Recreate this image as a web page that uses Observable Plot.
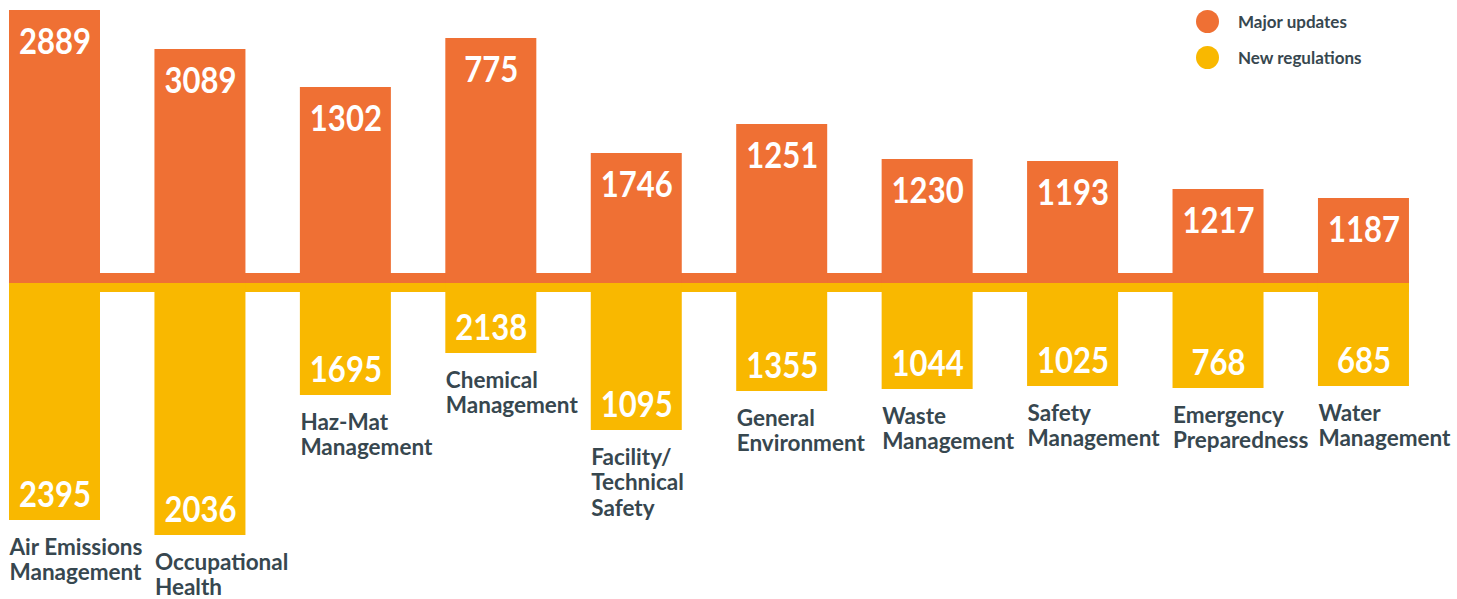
<!DOCTYPE html>
<html><head><meta charset="utf-8">
<script src="https://cdn.jsdelivr.net/npm/d3@7"></script>
<script src="https://cdn.jsdelivr.net/npm/@observablehq/plot@0.6"></script>
<style>
body{margin:0;background:#fff;}
#wrap{position:relative;width:1457px;height:599px;}
#legend{position:absolute;left:1196px;top:4px;font-family:Lato,sans-serif;font-weight:700;font-size:17px;color:#37474F}
.item{display:flex;align-items:center;height:35.6px}
.sw{width:23px;height:23px;border-radius:50%;margin-right:19px;flex:none}
</style></head>
<body><div id="wrap"><div id="chart"></div><div id="legend"></div></div>
<script>
// ---- data ----
const categories = ["Air Emissions\nManagement","Occupational\nHealth","Haz-Mat\nManagement","Chemical\nManagement","Facility/\nTechnical\nSafety","General\nEnvironment","Waste\nManagement","Safety\nManagement","Emergency\nPreparedness","Water\nManagement"];
const majorUpdates = [2889, 3089, 1302, 775, 1746, 1251, 1230, 1193, 1217, 1187];
const newRegulations = [2395, 2036, 1695, 2138, 1095, 1355, 1044, 1025, 768, 685];
// drawn bar lengths (the infographic does not scale bars to the values)
const majorBarLength = [273, 234, 196, 245, 130, 159, 124, 122, 94, 85];
const newBarLength = [237, 252, 112, 70, 147, 108, 106, 103, 105, 103];
const seriesNames = ["Major updates", "New regulations"];
const seriesColors = ["#EF7034", "#F9B800"];

const rows = categories.map((c, i) => ({
  i, category: c, major: majorUpdates[i], newReg: newRegulations[i],
  up: majorBarLength[i], down: newBarLength[i]
}));
const w = 91 / 145.44;          // bar width as fraction of step
const n = categories.length;
const textColor = "#37474F";
const numFont = "Lato, sans-serif";

const chart = Plot.plot({
  width: 1457, height: 599, margin: 0,
  style: {background: "#fff", overflow: "visible"},
  x: {domain: [-9 / 145.44, 1448 / 145.44], axis: null},
  y: {domain: [-316, 283], axis: null},
  marks: [
    // central band
    Plot.rect([0], {x1: 0, x2: n - 1 + w, y1: 0, y2: 10, fill: seriesColors[0]}),
    Plot.rect([0], {x1: 0, x2: n - 1 + w, y1: 0, y2: -9, fill: seriesColors[1]}),
    // bars
    Plot.rect(rows, {x1: d => d.i, x2: d => d.i + w, y1: 0, y2: d => d.up, fill: seriesColors[0]}),
    Plot.rect(rows, {x1: d => d.i, x2: d => d.i + w, y1: 0, y2: d => -d.down, fill: seriesColors[1]}),
    // values
    Plot.text(rows, {x: d => d.i + w / 2, y: d => d.up, text: d => String(d.major),
      lineAnchor: "bottom", dy: 43, fill: "#fff", fontSize: 37, fontWeight: 700, fontFamily: numFont}),
    Plot.text(rows, {x: d => d.i + w / 2, y: d => -d.down, text: d => String(d.newReg),
      lineAnchor: "bottom", dy: -14, fill: "#fff", fontSize: 37, fontWeight: 700, fontFamily: numFont}),
    // category labels
    Plot.text(rows, {x: d => d.i, y: d => -d.down, text: d => d.category,
      textAnchor: "start", lineAnchor: "top", dy: 16, lineHeight: 1.14,
      fill: textColor, fontSize: 22.5, fontWeight: 700, fontFamily: "Lato, sans-serif"})
  ]
});
// condense the value numbers horizontally
const textGroups = chart.querySelectorAll('g[aria-label="text"]');
[textGroups[0], textGroups[1]].forEach(g => {
  if (!g) return;
  g.querySelectorAll("text").forEach(t => {
    const tr = t.getAttribute("transform") || "";
    t.setAttribute("transform", tr + " scale(0.84,1)");
  });
});
document.getElementById("chart").appendChild(chart);

const legend = document.getElementById("legend");
seriesNames.forEach((name, k) => {
  const item = document.createElement("div");
  item.className = "item";
  const sw = document.createElement("span");
  sw.className = "sw";
  sw.style.background = seriesColors[k];
  const t = document.createElement("span");
  t.textContent = name;
  item.appendChild(sw); item.appendChild(t);
  legend.appendChild(item);
});
</script>
</body></html>
